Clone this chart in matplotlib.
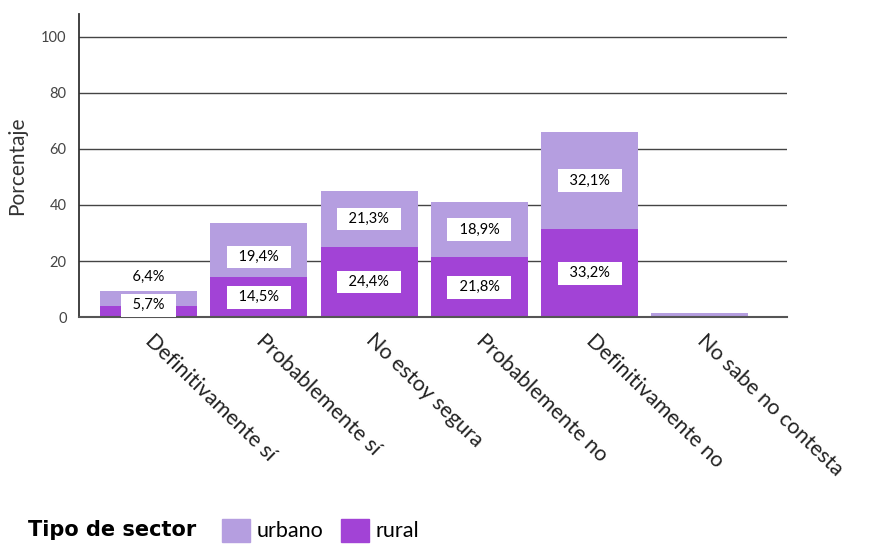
import numpy as np
import matplotlib.pyplot as plt
from matplotlib.patches import Patch

plt.rcParams['font.family'] = ['Lato', 'DejaVu Sans']

categorias = ["Definitivamente sí", "Probablemente sí", "No estoy segura",
              "Probablemente no", "Definitivamente no", "No sabe no contesta"]
rural = [3.9, 14.3, 25.0, 21.4, 31.4, 0.0]
urbano = [5.5, 19.3, 20.0, 19.6, 34.6, 1.4]
etiquetas_rural = ["5,7%", "14,5%", "24,4%", "21,8%", "33,2%", ""]
etiquetas_urbano = ["6,4%", "19,4%", "21,3%", "18,9%", "32,1%", ""]

col_urbano = "#b59ee0"
col_rural = "#a243d6"

fig = plt.figure(figsize=(8.74, 5.45), dpi=100)
ax = fig.add_axes([0.0904, 0.418, 0.81, 0.556])

x = np.arange(len(categorias))
ax.bar(x, rural, width=0.88, color=col_rural, zorder=2)
ax.bar(x, urbano, bottom=rural, width=0.88, color=col_urbano, zorder=2)

box = dict(boxstyle="square,pad=0.3", fc="white", ec="none")
for i in range(len(categorias)):
    if etiquetas_rural[i]:
        yr = rural[i] / 2
        if i == 0:
            yr = 4.3
        ax.text(x[i], yr, "  " + etiquetas_rural[i] + "  ", ha="center",
                va="center", fontsize=10.5, bbox=box, zorder=3)
    if etiquetas_urbano[i]:
        yu = rural[i] + urbano[i] / 2
        if i == 0:
            yu = 14.5
        elif i == 1:
            yu -= 2.5
        ax.text(x[i], yu, "  " + etiquetas_urbano[i] + "  ", ha="center",
                va="center", fontsize=10.5, bbox=box, zorder=3)

ax.set_xlim(-0.63, 5.79)
ax.set_ylim(0, 108)
ax.set_yticks([0, 20, 40, 60, 80, 100])
ax.tick_params(axis="y", length=0, labelsize=10.5, labelcolor="#444444", pad=9)
ax.tick_params(axis="x", length=0)
ax.grid(axis="y", color="#444444", linewidth=1.0, zorder=0)
for s in ["top", "right"]:
    ax.spines[s].set_visible(False)
ax.spines["left"].set_color("#333333")
ax.spines["bottom"].set_color("#555555")
ax.spines["left"].set_linewidth(1.3)
ax.spines["bottom"].set_linewidth(1.5)

ax.set_xticks(x)
ax.set_xticklabels(categorias, rotation=-44, ha="left", va="center",
                   rotation_mode="anchor", fontsize=15.5, color="#222222")
for lab in ax.get_xticklabels():
    lab.set_x(lab.get_position()[0])
    lab.set_y(-0.05)
ax.set_ylabel("Porcentaje", fontsize=15, color="#333333", labelpad=10)

fig.text(0.032, 0.027, "Tipo de sector", fontsize=15, fontweight="bold",
         family="DejaVu Sans", va="center", ha="left")
handles = [Patch(color=col_urbano, label="urbano"),
           Patch(color=col_rural, label="rural")]
fig.legend(handles=handles, loc="center left", bbox_to_anchor=(0.232, 0.027),
           ncol=2, frameon=False, fontsize=15.5, handlelength=1.3,
           handleheight=1.3, handletextpad=0.3, columnspacing=0.8)

fig.savefig("out.png", dpi=100)
